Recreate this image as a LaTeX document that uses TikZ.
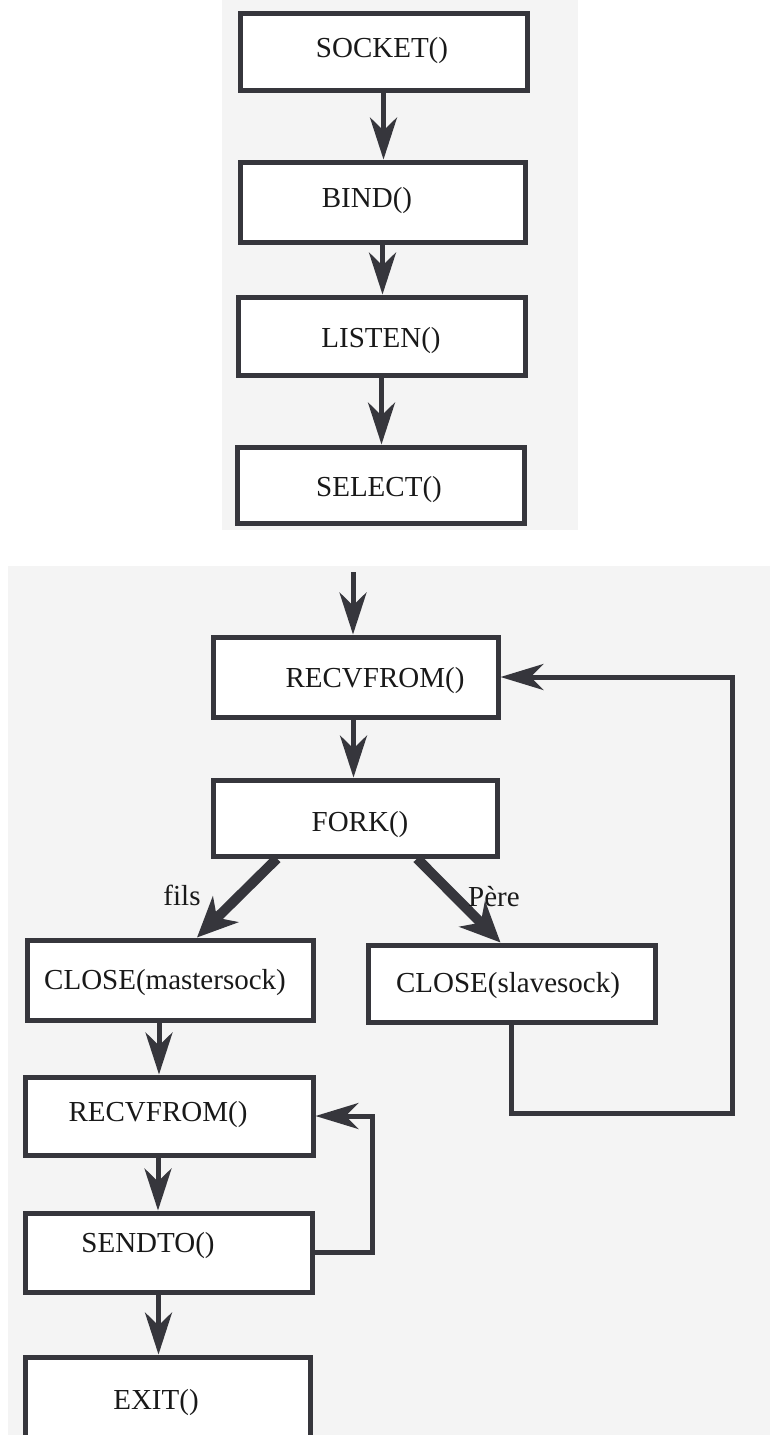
\documentclass[tikz,border=0pt]{standalone}
\usepackage{fontspec}
\setmainfont{Liberation Serif}
\usetikzlibrary{arrows.meta,calc}

\definecolor{ink}{HTML}{36363C}
\definecolor{paper}{HTML}{F4F4F4}

\tikzset{
  box/.style={draw=ink, line width=5pt, fill=white, inner sep=0pt},
  lbl/.style={inner sep=0pt, font=\fontsize{29}{34}\selectfont, text=black!90},
  arr/.style={draw=ink, line width=5pt,
    -{Stealth[length=42pt, width=27pt, inset=13pt]}},
  loop/.style={draw=ink, line width=5pt, line join=miter,
    -{Stealth[length=43pt, width=26pt, inset=13pt]}},
  branch/.style={draw=ink, line width=10pt,
    -{Stealth[length=40pt, width=36pt, inset=12pt]}},
}

\begin{document}
\begin{tikzpicture}[x=1pt, y=-1pt]
  \useasboundingbox (0,0) rectangle (770,1435);
  \clip (0,0) rectangle (770,1435);
  \fill[white] (0,0) rectangle (770,1435);
  % shaded panels behind the two halves of the flowchart
  \fill[paper] (222,0) rectangle (578,530);
  \fill[paper] (8,566) rectangle (770,1435);

  % server set-up
  \node[box, minimum width=287pt, minimum height=77pt] (socket) at (383.5,51.5) {};
  \node[box, minimum width=285pt, minimum height=80pt] (bind)   at (382.5,202) {};
  \node[box, minimum width=287pt, minimum height=78pt] (listen) at (381.5,336) {};
  \node[box, minimum width=287pt, minimum height=76pt] (select) at (380.5,485) {};

  \node[lbl] (socketT) at (382,51)  {SOCKET()};
  \node[lbl] (bindT)   at (367,201) {BIND()};
  \node[lbl] (listenT) at (381,341) {LISTEN()};
  \node[lbl] (selectT) at (379,490) {SELECT()};

  \draw[arr] (socket.south) -- (socket.south |- bind.north);
  \draw[arr] (bind.south)   -- (bind.south |- listen.north);
  \draw[arr] (listen.south) -- (listen.south |- select.north);

  % accept loop
  \node[box, minimum width=285pt, minimum height=80pt] (recv)   at (355.5,677) {};
  \node[box, minimum width=284pt, minimum height=76pt] (fork)   at (355,818) {};
  \node[box, minimum width=286pt, minimum height=80pt] (closem) at (170,980) {};
  \node[box, minimum width=287pt, minimum height=77pt] (closes) at (511.5,983.5) {};

  \node[lbl] (recvT)   at (375,681) {RECVFROM()};
  \node[lbl] (forkT)   at (360,825) {FORK()};
  \node[lbl] (closemT) at (165,983) {CLOSE(mastersock)};
  \node[lbl] (closesT) at (508,986) {CLOSE(slavesock)};

  \coordinate (entry) at (353,572);
  \draw[arr] (entry) -- (entry |- recv.north);
  \draw[arr] ([xshift=-2pt]recv.south) -- ([xshift=-2pt]recv.south |- fork.north);

  \draw[branch] ([xshift=-78pt]fork.south) -- ([xshift=27pt]closem.north);
  \draw[branch] ([xshift=62pt]fork.south) -- ([xshift=-11pt]closes.north);
  \node[lbl] (fils) at (182,895) {fils};
  \node[lbl] (pere) at (494,897) {Père};

  \coordinate (backR) at (732,1113);
  \draw[loop] (closes.south) |- (backR) |- (recv.east);

  % child process
  \node[box, minimum width=288pt, minimum height=78pt] (recv2)  at (169,1116) {};
  \node[box, minimum width=287pt, minimum height=79pt] (sendto) at (168.5,1252.5) {};
  \node[box, minimum width=285pt, minimum height=83pt] (exitb)  at (167.5,1398.5) {};

  \node[lbl] (recv2T)  at (158,1115) {RECVFROM()};
  \node[lbl] (sendtoT) at (148,1246) {SENDTO()};
  \node[lbl] (exitT)   at (156,1403) {EXIT()};

  \draw[arr] ([xshift=-11pt]closem.south) -- ([xshift=-11pt]closem.south |- recv2.north);
  \draw[arr] ([xshift=-11pt]recv2.south)  -- ([xshift=-11pt]recv2.south |- sendto.north);
  \draw[arr] ([xshift=-10pt]sendto.south) -- ([xshift=-10pt]sendto.south |- exitb.north);

  \coordinate (backL) at (372,1252.5);
  \draw[loop] (sendto.east) -- (backL) |- (recv2.east);
\end{tikzpicture}
\end{document}
